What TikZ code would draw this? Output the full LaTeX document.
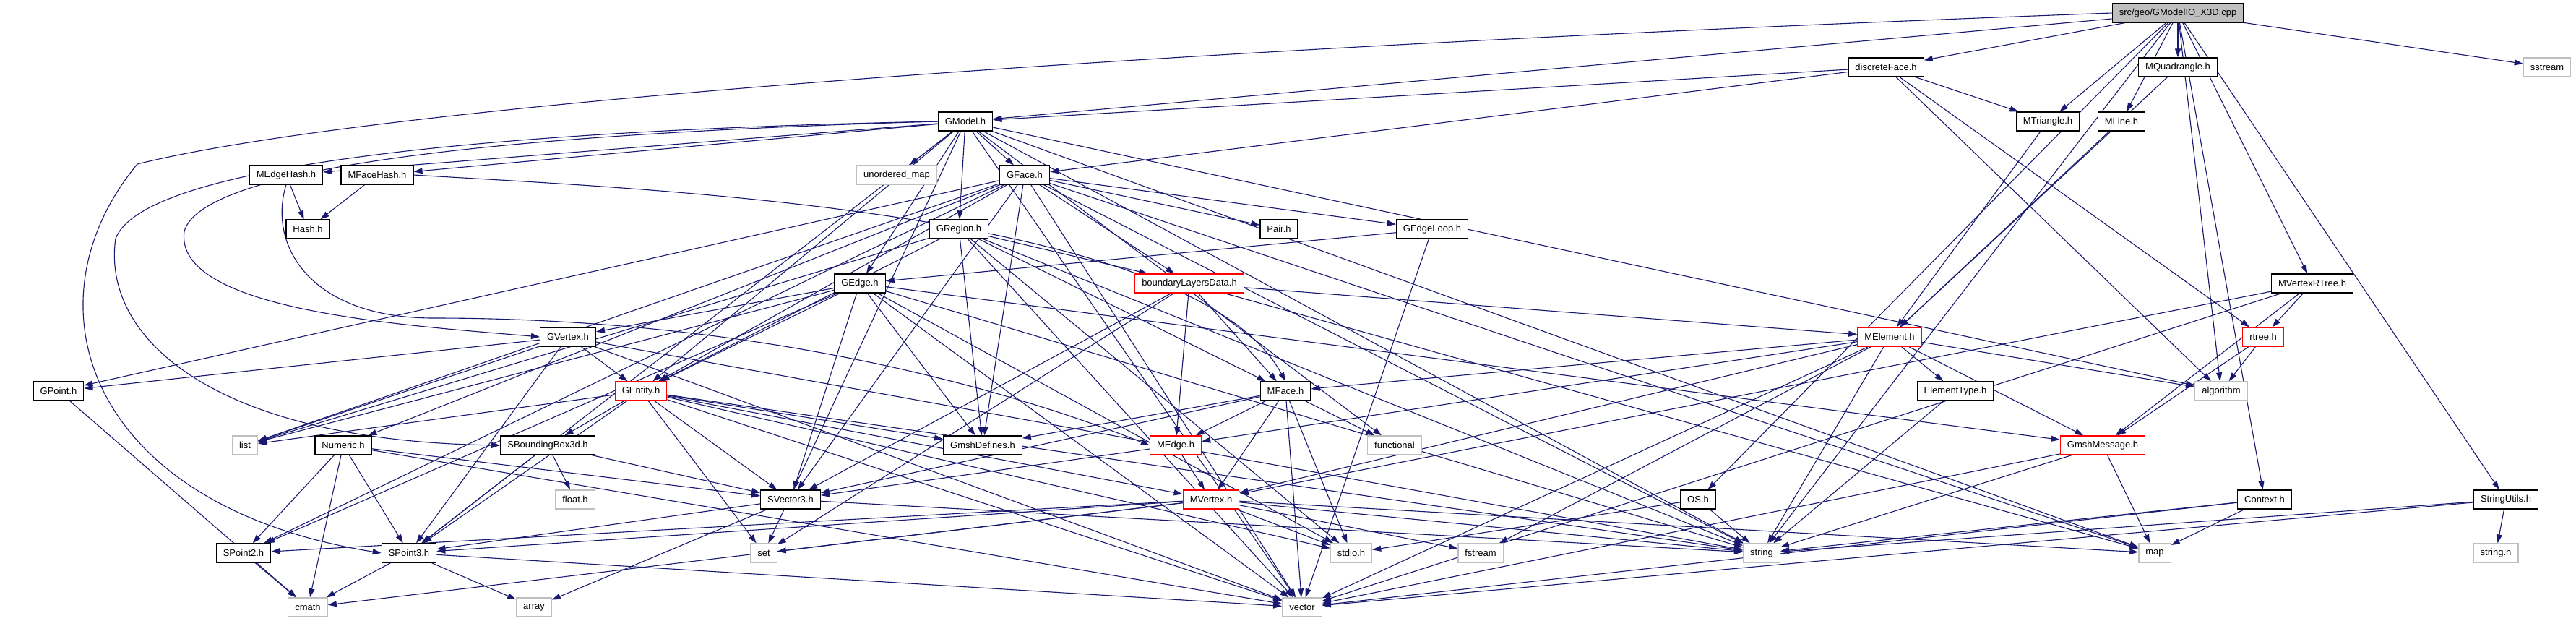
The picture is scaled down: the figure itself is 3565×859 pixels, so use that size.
\documentclass[tikz,border=0pt]{standalone}
\usepackage{fontspec}
\setmainfont{Liberation Sans}
\usetikzlibrary{arrows.meta}
\definecolor{DEdge}{HTML}{191970}
\definecolor{DGray}{HTML}{BFBFBF}
\definecolor{DRed}{HTML}{FF0000}
\pgfdeclarelayer{bg}
\pgfsetlayers{bg,main}

\begin{document}
\begin{tikzpicture}[
  x=1pt,y=-1pt,
  every node/.style={font=\fontsize{13}{15}\selectfont},
  hdr/.style={draw=black,line width=1.3pt,fill=white,
    minimum height=26pt,inner xsep=9.5pt,inner ysep=0pt},
  sys/.style={hdr,draw=DGray},
  trunc/.style={hdr,draw=DRed},
  rootbox/.style={hdr,fill=DGray},
  a/.style={-{Triangle[length=12pt,width=8pt]},line width=1.1pt,color=DEdge}
]
  \useasboundingbox (0,0) rectangle (3565,859);

  % row 0-2
  \node[rootbox] (root) at (3014,18) {src/geo/GModelIO\_X3D.cpp};
  \node[hdr] (discFace) at (2610,93) {discreteFace.h};
  \node[hdr] (MQuad) at (3014,93) {MQuadrangle.h};
  \node[sys] (sstream) at (3525,93) {sstream};
  \node[hdr] (GModel) at (1336,168) {GModel.h};
  \node[hdr] (MTri) at (2834,168) {MTriangle.h};
  \node[hdr] (MLine) at (2936,168) {MLine.h};

  % row 3-5
  \node[hdr] (MEdgeHash) at (396,242) {MEdgeHash.h};
  \node[hdr] (MFaceHash) at (522,242) {MFaceHash.h};
  \node[sys] (umap) at (1241,242) {unordered\_map};
  \node[hdr] (GFace) at (1418,242) {GFace.h};
  \node[hdr] (Hash) at (426,317) {Hash.h};
  \node[hdr] (GRegion) at (1327,317) {GRegion.h};
  \node[hdr] (Pair) at (1770,317) {Pair.h};
  \node[hdr] (GEdgeLoop) at (1982,317) {GEdgeLoop.h};
  \node[hdr] (GEdge) at (1190,392) {GEdge.h};
  \node[trunc] (bld) at (1646,392) {boundaryLayersData.h};
  \node[hdr] (MVRTree) at (3200,392) {MVertexRTree.h};

  % row 6-8
  \node[hdr] (GVertex) at (786,466) {GVertex.h};
  \node[trunc] (MElement) at (2615,466) {MElement.h};
  \node[trunc] (rtree) at (3132,466) {rtree.h};
  \node[hdr] (GPoint) at (81,541) {GPoint.h};
  \node[trunc] (GEntity) at (887,541) {GEntity.h};
  \node[hdr] (MFace) at (1779,541) {MFace.h};
  \node[hdr] (ElemType) at (2706,541) {ElementType.h};
  \node[sys] (algorithm) at (3074,541) {algorithm};
  \node[sys] (list) at (339,616) {list};
  \node[hdr] (Numeric) at (475,616) {Numeric.h};
  \node[hdr] (SBB) at (758,616) {SBoundingBox3d.h};
  \node[hdr] (GmshDefines) at (1360,616) {GmshDefines.h};
  \node[trunc] (MEdge) at (1627,616) {MEdge.h};
  \node[sys] (functional) at (1930,616) {functional};
  \node[trunc] (GmshMsg) at (2910,616) {GmshMessage.h};

  % row 9-11
  \node[sys] (floath) at (796,691) {float.h};
  \node[hdr] (SVector3) at (1094,691) {SVector3.h};
  \node[trunc] (MVertex) at (1676,691) {MVertex.h};
  \node[hdr] (OS) at (2350,691) {OS.h};
  \node[hdr] (Context) at (3134,691) {Context.h};
  \node[hdr] (StringUtils) at (3468,691) {StringUtils.h};
  \node[hdr] (SPoint2) at (337,765) {SPoint2.h};
  \node[hdr] (SPoint3) at (566,765) {SPoint3.h};
  \node[sys] (set) at (1057,765) {set};
  \node[sys] (stdio) at (1870,765) {stdio.h};
  \node[sys] (fstream) at (2049,765) {fstream};
  \node[sys] (string) at (2438,765) {string};
  \node[sys] (map) at (2982,765) {map};
  \node[sys] (stringh) at (3454,765) {string.h};
  \node[sys] (cmath) at (426,840) {cmath};
  \node[sys] (array) at (739,840) {array};
  \node[sys] (vector) at (1802,840) {vector};

  \begin{pgfonlayer}{bg}
  \foreach \a/\b in {root/GModel,root/discFace,root/MTri,root/MLine,root/MQuad,
      root/sstream,root/MVRTree,root/algorithm,root/string,root/Context,
      root/StringUtils,root/OS,
      discFace/GModel,discFace/GFace,discFace/MTri,discFace/rtree,discFace/algorithm,
      MTri/MElement,MLine/MElement,MQuad/MElement,
      GModel/umap,GModel/GFace,GModel/GRegion,GModel/GEdge,
      GModel/GEntity,GModel/MEdgeHash,GModel/MFaceHash,GModel/SPoint3,
      GModel/set,GModel/string,GModel/vector,GModel/map,GModel/algorithm,
      GModel/functional,
      MEdgeHash/Hash,MFaceHash/Hash}
    {\draw[a] (\a) -- (\b);}
  \foreach \a/\b in {GFace/GEntity,GFace/GPoint,GFace/GEdgeLoop,GFace/Pair,GFace/bld,
      GFace/Numeric,GFace/list,GFace/SPoint2,GFace/SVector3,GFace/GmshDefines,
      GFace/string,GFace/vector,GFace/map,
      GRegion/GEntity,GRegion/bld,GRegion/MFace,GRegion/list,GRegion/vector,
      GRegion/string,GRegion/stdio,GRegion/GmshDefines,
      GEdgeLoop/GEdge,GEdgeLoop/vector,
      GEdge/GEntity,GEdge/GVertex,GEdge/SVector3,GEdge/SPoint2,GEdge/GmshDefines,
      GEdge/list,GEdge/string,GEdge/vector,GEdge/stdio,GEdge/GmshMsg,
      bld/MElement,bld/MFace,bld/MEdge,bld/SVector3,bld/set,bld/map,
      MVRTree/MVertex,MVRTree/rtree,MVRTree/GmshMsg,MVRTree/vector}
    {\draw[a] (\a) -- (\b);}
  \foreach \a/\b in {GVertex/GEntity,GVertex/GPoint,GVertex/SPoint3,GVertex/list,
      GVertex/string,GVertex/vector,
      MElement/MFace,MElement/MEdge,MElement/MVertex,MElement/ElemType,
      MElement/GmshMsg,MElement/algorithm,MElement/string,MElement/vector,
      MElement/fstream,
      rtree/algorithm,rtree/GmshMsg,
      GEntity/list,GEntity/SBB,GEntity/SVector3,GEntity/SPoint3,GEntity/GmshDefines,
      GEntity/set,GEntity/stdio,GEntity/string,GEntity/vector,GEntity/MVertex,
      MFace/GmshDefines,MFace/MEdge,MFace/MVertex,MFace/SVector3,MFace/vector,
      MFace/functional,MFace/stdio,
      ElemType/string,
      Numeric/SPoint2,Numeric/SPoint3,Numeric/cmath,Numeric/vector,Numeric/SVector3,
      SBB/floath,SBB/SPoint3,SBB/SVector3,
      GmshMsg/map,GmshMsg/string,GmshMsg/vector,
      MEdge/MVertex,MEdge/SVector3,
      SVector3/SPoint3,SVector3/array,SVector3/string,
      MVertex/SPoint2,MVertex/SPoint3,MVertex/cmath,MVertex/set,MVertex/stdio,
      MVertex/fstream,MVertex/string,MVertex/map,
      OS/string,OS/stdio,
      Context/string,Context/map,Context/vector,
      StringUtils/stringh,StringUtils/string,StringUtils/vector,
      SPoint2/cmath,SPoint3/cmath,SPoint3/array,SPoint3/vector,GPoint/cmath}
    {\draw[a] (\a) -- (\b);}
  % long includes routed round the left side
  \draw[a] (root.west) .. controls (1500,70) and (500,150) .. (190,227)
    .. controls (30,420) and (120,700) .. (SPoint3.west);
  \draw[a] (GModel.west) .. controls (700,180) and (200,225) .. (160,330)
    .. controls (140,470) and (300,610) .. (SBB.west);
  \draw[a] (GModel.west) .. controls (700,185) and (280,230) .. (255,320)
    .. controls (240,430) and (560,450) .. (GVertex.west);
  \draw[a] (MEdgeHash.south) .. controls (370,340) and (430,440) .. (600,440)
    .. controls (1100,440) and (1450,560) .. (MEdge.west);
  \draw[a] (MFaceHash.east) .. controls (900,262) and (1650,290) .. (MFace.north);
  \end{pgfonlayer}
\end{tikzpicture}
\end{document}
